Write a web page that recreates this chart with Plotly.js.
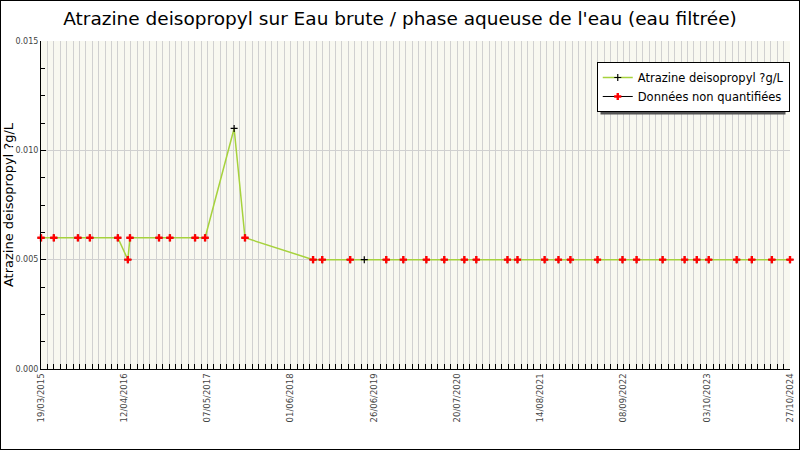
<!DOCTYPE html>
<html>
<head>
<meta charset="utf-8">
<script src="https://cdn.plot.ly/plotly-3.0.1.min.js"></script>
<style>
  body { margin: 0; background: #fff; }
  #canvas { width: 800px; height: 450px; box-sizing: border-box; border: 1px solid #000; }
</style>
</head>
<body>
<div id="canvas"></div>
<script>
// sample dates, measured values and whether the value was quantified
var dates = ["2015-03-19", "2015-05-18", "2015-09-08", "2015-11-03", "2016-03-13", "2016-04-29",
  "2016-05-09", "2016-09-22", "2016-11-12", "2017-03-10", "2017-04-26", "2017-09-09", "2017-10-30",
  "2018-09-14", "2018-10-27", "2019-03-07", "2019-05-12", "2019-08-23", "2019-11-11", "2020-02-27",
  "2020-05-21", "2020-08-23", "2020-10-18", "2021-03-13", "2021-04-29", "2021-09-03", "2021-11-07",
  "2022-01-02", "2022-05-09", "2022-09-03", "2022-11-08", "2023-03-10", "2023-06-21", "2023-08-17",
  "2023-10-12", "2024-02-20", "2024-05-01", "2024-08-03", "2024-10-27"];
var values = [0.006, 0.006, 0.006, 0.006, 0.006, 0.005,
  0.006, 0.006, 0.006, 0.006, 0.006, 0.011, 0.006,
  0.005, 0.005, 0.005, 0.005, 0.005, 0.005, 0.005,
  0.005, 0.005, 0.005, 0.005, 0.005, 0.005, 0.005,
  0.005, 0.005, 0.005, 0.005, 0.005, 0.005, 0.005,
  0.005, 0.005, 0.005, 0.005, 0.005];
var quantified = [0, 0, 0, 0, 0, 0,
  0, 0, 0, 0, 0, 1, 0,
  0, 0, 0, 1, 0, 0, 0,
  0, 0, 0, 0, 0, 0, 0,
  0, 0, 0, 0, 0, 0, 0,
  0, 0, 0, 0, 0];
var seriesName = "Atrazine deisopropyl ?g/L";
var nqName = "Données non quantifiées";

// non-quantified points, separated by gaps so no line joins them
var nqX = [], nqY = [];
for (var i = 0; i < dates.length; i++) {
  if (!quantified[i]) {
    nqX.push(dates[i], dates[i]);
    nqY.push(values[i], null);
  }
}

var DAY = 86400000;
var font = 'DejaVu Sans';

var trace1 = {
  x: dates,
  y: values,
  name: seriesName,
  type: 'scatter',
  mode: 'lines+markers',
  cliponaxis: false,
  line: { color: '#A6D23C', width: 1.5 },
  marker: { symbol: 'cross-thin', size: 5, color: '#000', line: { color: '#000', width: 1.2 } },
  hovertemplate: '%{x|%d/%m/%Y}: %{y}<extra></extra>'
};
var trace2 = {
  x: nqX,
  y: nqY,
  name: nqName,
  type: 'scatter',
  mode: 'lines+markers',
  connectgaps: false,
  cliponaxis: false,
  line: { color: '#000', width: 1 },
  marker: { symbol: 'cross', size: 6, color: '#FF0000' },
  hovertemplate: '%{x|%d/%m/%Y}: %{y}<extra></extra>'
};

var layout = {
  width: 798,
  height: 448,
  margin: { l: 40, r: 9, t: 40, b: 80 },
  paper_bgcolor: '#fff',
  plot_bgcolor: '#F8F8F0',
  font: { family: font, size: 8, color: '#444' },
  title: {
    text: 'Atrazine deisopropyl sur Eau brute / phase aqueuse de l\'eau (eau filtrée)',
    font: { family: font, size: 18.5, color: '#000' },
    x: 0.5,
    y: 0.96,
    yanchor: 'middle'
  },
  showlegend: true,
  legend: {
    x: 0.742,
    y: 0.936,
    xanchor: 'left',
    yanchor: 'top',
    bgcolor: '#fff',
    bordercolor: '#000',
    borderwidth: 1,
    font: { family: font, size: 11.5, color: '#000' },
    itemwidth: 30
  },
  xaxis: {
    type: 'date',
    range: ['2015-03-19', '2024-10-27'],
    tick0: '2015-03-19',
    dtick: 390 * DAY,
    tickformat: '%d/%m/%Y',
    tickangle: -90,
    tickfont: { family: font, size: 8.5, color: '#444' },
    ticks: 'inside',
    ticklen: 5,
    tickcolor: '#000',
    showgrid: true,
    gridcolor: '#D0D0D0',
    showline: true,
    linecolor: '#000',
    linewidth: 1,
    zeroline: false,
    minor: {
      tick0: '2015-03-19',
      dtick: 30 * DAY,
      ticks: 'inside',
      ticklen: 5,
      tickcolor: '#000',
      showgrid: true,
      gridcolor: '#D0D0D0'
    }
  },
  yaxis: {
    range: [0, 0.015],
    dtick: 0.005,
    tickformat: '.3f',
    tickfont: { family: font, size: 8, color: '#444' },
    ticks: 'inside',
    ticklen: 5,
    tickcolor: '#000',
    showgrid: true,
    gridcolor: '#D0D0D0',
    showline: true,
    linecolor: '#000',
    linewidth: 1,
    zeroline: false,
    minor: { dtick: 0.00125, ticks: 'inside', ticklen: 4, tickcolor: '#000', showgrid: false },
    title: {
      text: seriesName,
      font: { family: font, size: 13, color: '#000' },
      standoff: 4
    }
  },
  shapes: [{
    type: 'rect',
    xref: 'paper', yref: 'paper',
    x0: 0.747, x1: 0.994, y0: 0.776, y1: 0.926,
    fillcolor: '#555', line: { width: 0 },
    layer: 'above'
  }]
};

Plotly.newPlot('canvas', [trace1, trace2], layout, { displayModeBar: false });
</script>
</body>
</html>
